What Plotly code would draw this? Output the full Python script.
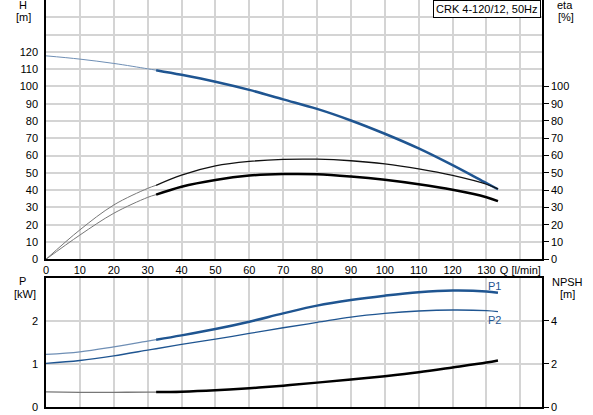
import plotly.graph_objects as go

# flow rate Q [l/min]
q = [0, 10, 20, 30, 32.5, 40, 50, 60, 70, 80, 90, 100, 110, 120, 130, 133.4]

# head H [m]
head = [117.7, 115.8, 113.3, 110.2, 109.4, 106.7, 102.7, 98.0, 92.5, 87.0, 80.3, 72.6, 64.1, 54.4, 44.0, 40.5]
# efficiencies eta [%]
eta_upper = [0, 17.0, 31.4, 41.0, 42.8, 48.7, 54.0, 56.6, 57.8, 57.9, 57.0, 55.2, 52.3, 48.5, 43.4, 40.7]
eta_lower = [0, 14.0, 26.6, 35.8, 37.4, 42.0, 45.9, 48.4, 49.3, 49.2, 47.9, 46.0, 43.4, 40.2, 35.9, 33.6]

# power P [kW]
p1 = [1.22, 1.28, 1.395, 1.527, 1.56, 1.66, 1.806, 1.977, 2.17, 2.35, 2.48, 2.58, 2.66, 2.70, 2.68, 2.65]
p2 = [1.01, 1.078, 1.186, 1.318, 1.35, 1.45, 1.574, 1.705, 1.837, 1.96, 2.085, 2.17, 2.225, 2.248, 2.233, 2.21]
# NPSH [m]
npsh = [0.70, 0.68, 0.68, 0.69, 0.69, 0.71, 0.775, 0.87, 0.99, 1.13, 1.27, 1.43, 1.61, 1.83, 2.06, 2.155]

x_ticks = list(range(0, 150, 10))
x_text = [str(v) for v in range(0, 140, 10)] + ['Q [l/min]']
h_ticks = list(range(0, 150, 10))
h_text = [str(v) if v <= 120 else '' for v in h_ticks]
eta_ticks = list(range(0, 110, 10))

blue = '#1f5591'
blue_thin = '#6f8fb5'
grid = '#d4d4d4'
split = 4  # index where the thick (operating range) part starts

fig = go.Figure()

def add(x, y, xa, ya, color, width):
    fig.add_trace(go.Scatter(x=x, y=y, xaxis=xa, yaxis=ya, mode='lines',
                             line=dict(color=color, width=width, shape='spline'),
                             showlegend=False, hoverinfo='skip'))

# upper chart
add(q[:split + 1], head[:split + 1], 'x', 'y', blue_thin, 1)
add(q[split:], head[split:], 'x', 'y', blue, 2.5)
add(q[:split + 1], eta_upper[:split + 1], 'x', 'y2', '#777777', 1)
add(q[split:], eta_upper[split:], 'x', 'y2', '#111111', 1.3)
add(q[:split + 1], eta_lower[:split + 1], 'x', 'y2', '#777777', 1)
add(q[split:], eta_lower[split:], 'x', 'y2', '#000000', 2.5)

# lower chart
add(q[:split + 1], p1[:split + 1], 'x2', 'y3', blue_thin, 1.3)
add(q[split:], p1[split:], 'x2', 'y3', blue, 2.5)
add(q, p2, 'x2', 'y3', blue, 1.3)
add(q[:split + 1], npsh[:split + 1], 'x2', 'y4', '#777777', 1.3)
add(q[split:], npsh[split:], 'x2', 'y4', '#000000', 2.5)

font = dict(family='Arial, Liberation Sans, sans-serif', size=11, color='#000000')
xr = [0, 146.4]

fig.update_layout(
    width=593, height=415,
    margin=dict(l=46, r=51, t=0, b=8),
    paper_bgcolor='white', plot_bgcolor='white',
    font=font,
    xaxis=dict(domain=[0, 1], range=xr, tickvals=x_ticks, ticktext=x_text,
               showgrid=True, gridcolor=grid, gridwidth=1.5, zeroline=False,
               showline=True, linecolor='black', linewidth=1.5, anchor='y', ticks=''),
    yaxis=dict(domain=[0.363, 1.0], range=[0, 150], tickvals=h_ticks, ticktext=h_text,
               showgrid=True, gridcolor=grid, gridwidth=1.5, zeroline=False,
               showline=True, linecolor='black', linewidth=1.5,
               ticks='outside', ticklen=4, tickcolor='rgba(0,0,0,0)'),
    yaxis2=dict(overlaying='y', side='right', range=[0, 150], tickvals=eta_ticks,
                showgrid=False, zeroline=False, showline=True, linecolor='black', linewidth=1.5,
                ticks='outside', ticklen=5, tickcolor='black', anchor='x'),
    xaxis2=dict(domain=[0, 1], range=xr, tickvals=x_ticks, showticklabels=False,
                showgrid=True, gridcolor=grid, gridwidth=1.5, zeroline=False,
                showline=True, mirror=True, linecolor='black', linewidth=1.5, anchor='y3'),
    yaxis3=dict(domain=[0, 0.318], range=[0, 3], tickvals=[0, 1, 2, 3], ticktext=['0', '1', '2', ''],
                showgrid=True, gridcolor=grid, gridwidth=1.5, zeroline=False,
                showline=True, linecolor='black', linewidth=1.5, anchor='x2',
                ticks='outside', ticklen=4, tickcolor='rgba(0,0,0,0)'),
    yaxis4=dict(overlaying='y3', side='right', range=[0, 6], tickvals=[0, 2, 4],
                showgrid=False, zeroline=False, showline=True, linecolor='black', linewidth=1.5,
                ticks='outside', ticklen=5, tickcolor='black', anchor='x2'),
)

def px(x):
    return (x - 46) / 496

def py(y):
    return (407 - y) / 407

labels = [('H', 23, 5), ('[m]', 23, 17), ('eta', 565, 5), ('[%]', 566, 17),
          ('P', 22, 281), ('[kW]', 25, 294), ('NPSH', 567, 282), ('[m]', 567, 294)]
for text, x, y in labels:
    fig.add_annotation(text=text, x=px(x), y=py(y), xref='paper', yref='paper',
                       showarrow=False, xanchor='center', yanchor='middle', font=font)

fig.add_annotation(text='CRK 4-120/12, 50Hz', x=px(541), y=1.0, xref='paper', yref='paper',
                   xanchor='right', yanchor='top', showarrow=False, font=font,
                   bordercolor='black', borderwidth=1, borderpad=2, bgcolor='white')

fig.add_annotation(text='P1', x=132.4, y=2.81, xref='x2', yref='y3', showarrow=False,
                   font=dict(family=font['family'], size=11, color=blue))
fig.add_annotation(text='P2', x=132.4, y=2.02, xref='x2', yref='y3', showarrow=False,
                   font=dict(family=font['family'], size=11, color=blue))

# the page's default body margin would push the fixed-size figure off the window
fig.write_html('out.html', config={'displayModeBar': False},
               post_script="document.body.style.margin='0';")
